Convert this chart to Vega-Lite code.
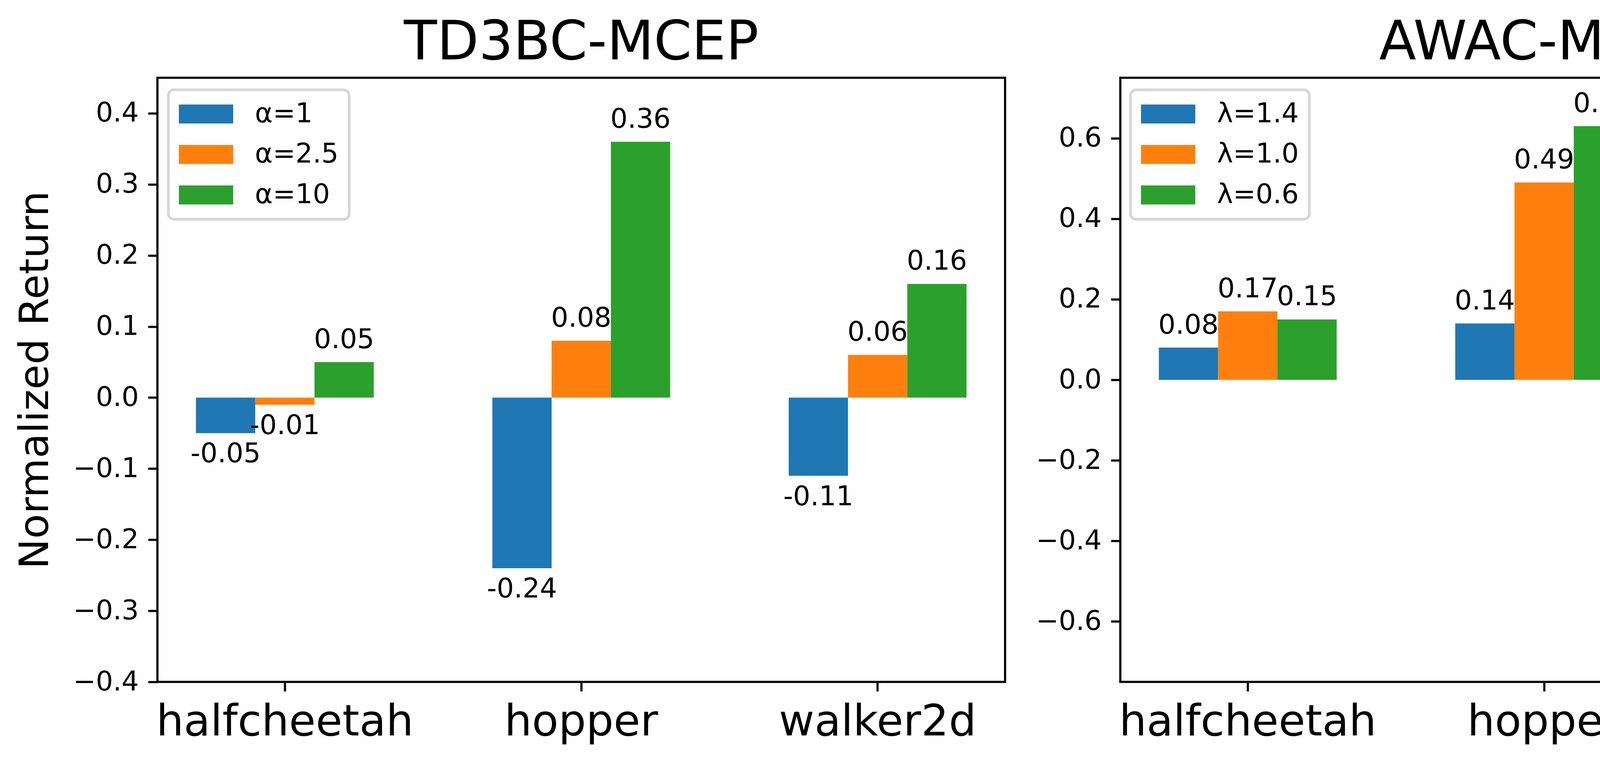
{
  "$schema": "https://vega.github.io/schema/vega-lite/v6.json",
  "background": "white",
  "padding": {"left": 36, "top": 38, "right": 40, "bottom": 5},
  "bounds": "flush",
  "spacing": 295,
  "resolve": {
    "scale": {"color": "independent", "y": "independent", "x": "independent", "xOffset": "independent"},
    "legend": {"color": "independent"}
  },
  "hconcat": [
    {
      "width": 2170,
      "height": 1546,
      "title": {"text": "TD3BC-MCEP"},
      "data": {
        "values": [
          {"env": "halfcheetah", "param": "α=1", "value": -0.05},
          {"env": "halfcheetah", "param": "α=2.5", "value": -0.01},
          {"env": "halfcheetah", "param": "α=10", "value": 0.05},
          {"env": "hopper", "param": "α=1", "value": -0.24},
          {"env": "hopper", "param": "α=2.5", "value": 0.08},
          {"env": "hopper", "param": "α=10", "value": 0.36},
          {"env": "walker2d", "param": "α=1", "value": -0.11},
          {"env": "walker2d", "param": "α=2.5", "value": 0.06},
          {"env": "walker2d", "param": "α=10", "value": 0.16}
        ]
      },
      "transform": [{"calculate": "replace(format(datum.value, '.2f'), '\u2212', '-')", "as": "label"}],
      "encoding": {
        "x": {
          "field": "env", "type": "nominal",
          "sort": ["halfcheetah", "hopper", "walker2d"],
          "scale": {"paddingInner": 0.4, "paddingOuter": 0.13},
          "axis": {"title": null}
        },
        "xOffset": {"field": "param", "type": "nominal", "sort": ["α=1", "α=2.5", "α=10"]},
        "y": {
          "field": "value", "type": "quantitative",
          "scale": {"domain": [-0.4, 0.45], "nice": false, "zero": false},
          "axis": {"values": [-0.4, -0.3, -0.2, -0.1, 0, 0.1, 0.2, 0.3, 0.4], "format": ".1f", "title": "Normalized Return", "titlePadding": 59}
        }
      },
      "layer": [
        {
          "mark": {"type": "bar"},
          "encoding": {
            "color": {
              "field": "param", "type": "nominal",
              "scale": {"domain": ["α=1", "α=2.5", "α=10"], "range": ["#1f77b4", "#ff7f0e", "#2ca02c"]},
              "legend": {"orient": "none", "legendX": 28, "legendY": 31}
            }
          }
        },
        {
          "mark": {"type": "text", "fontSize": 69.4, "font": "DejaVu Sans", "color": "black", "baseline": "alphabetic", "align": "center", "dy": {"expr": "datum.value < 0 ? 75 : -36"}},
          "encoding": {"text": {"field": "label"}}
        }
      ]
    },
    {
      "width": 2170,
      "height": 1546,
      "title": {"text": "AWAC-MCEP"},
      "data": {
        "values": [
          {"env": "halfcheetah", "param": "λ=1.4", "value": 0.08},
          {"env": "halfcheetah", "param": "λ=1.0", "value": 0.17},
          {"env": "halfcheetah", "param": "λ=0.6", "value": 0.15},
          {"env": "hopper", "param": "λ=1.4", "value": 0.14},
          {"env": "hopper", "param": "λ=1.0", "value": 0.49},
          {"env": "hopper", "param": "λ=0.6", "value": 0.63},
          {"env": "walker2d", "param": "λ=1.4", "value": -0.06},
          {"env": "walker2d", "param": "λ=1.0", "value": -0.01},
          {"env": "walker2d", "param": "λ=0.6", "value": 0.01}
        ]
      },
      "transform": [{"calculate": "replace(format(datum.value, '.2f'), '\u2212', '-')", "as": "label"}],
      "encoding": {
        "x": {
          "field": "env", "type": "nominal",
          "sort": ["halfcheetah", "hopper", "walker2d"],
          "scale": {"paddingInner": 0.4, "paddingOuter": 0.13},
          "axis": {"title": null}
        },
        "xOffset": {"field": "param", "type": "nominal", "sort": ["λ=1.4", "λ=1.0", "λ=0.6"]},
        "y": {
          "field": "value", "type": "quantitative",
          "scale": {"domain": [-0.75, 0.75], "nice": false, "zero": false},
          "axis": {"values": [-0.6, -0.4, -0.2, 0, 0.2, 0.4, 0.6], "format": ".1f", "title": null}
        }
      },
      "layer": [
        {
          "mark": {"type": "bar"},
          "encoding": {
            "color": {
              "field": "param", "type": "nominal",
              "scale": {"domain": ["λ=1.4", "λ=1.0", "λ=0.6"], "range": ["#1f77b4", "#ff7f0e", "#2ca02c"]},
              "legend": {"orient": "none", "legendX": 26, "legendY": 31}
            }
          }
        },
        {
          "mark": {"type": "text", "fontSize": 69.4, "font": "DejaVu Sans", "color": "black", "baseline": "alphabetic", "align": "center", "dy": {"expr": "datum.value < 0 ? 75 : -36"}},
          "encoding": {"text": {"field": "label"}}
        }
      ]
    }
  ],
  "config": {
    "view": {"stroke": "black", "strokeWidth": 5.56},
    "font": "DejaVu Sans",
    "axis": {
      "labelFont": "DejaVu Sans", "labelFontSize": 69.4, "labelColor": "black",
      "tickColor": "black", "tickSize": 24, "tickWidth": 5.56, "labelPadding": 24,
      "domain": false, "grid": false, "labelLimit": 3000, "labelOverlap": false,
      "titleFont": "DejaVu Sans", "titleFontWeight": "normal", "titleColor": "black", "titleFontSize": 104, "titleLimit": 5000
    },
    "axisX": {"labelFontSize": 111.1, "labelAngle": 0},
    "legend": {
      "title": null,
      "symbolType": "M-1.39,-0.972H4.17V0.972H-1.39Z",
      "symbolSize": 2500,
      "symbolStrokeWidth": 0,
      "symbolOpacity": 1,
      "labelFont": "DejaVu Sans", "labelFontSize": 69.4, "labelColor": "black", "labelLimit": 3000,
      "labelOffset": 125,
      "rowPadding": 32.6,
      "padding": 27,
      "fillColor": "white",
      "strokeColor": "#d6d6d6",
      "strokeWidth": 6.9,
      "cornerRadius": 14
    },
    "title": {
      "font": "DejaVu Sans", "fontSize": 138.9, "fontWeight": "normal", "color": "black",
      "anchor": "middle", "frame": "group", "baseline": "alphabetic", "offset": 18
    }
  }
}
